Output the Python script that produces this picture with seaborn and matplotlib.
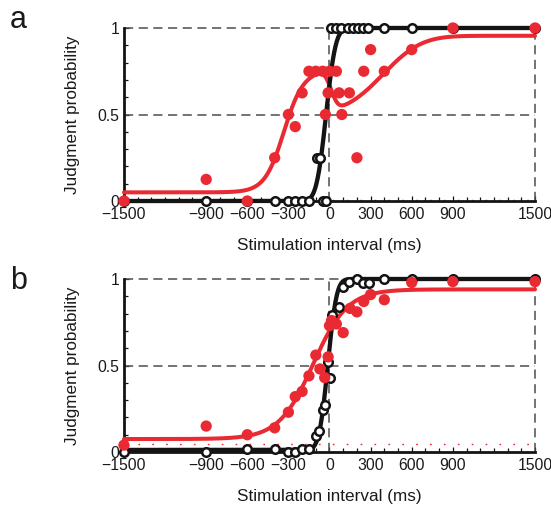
import math
import numpy as np
import matplotlib
matplotlib.use("Agg")
import matplotlib.pyplot as plt
from matplotlib.ticker import MultipleLocator, FixedLocator, FixedFormatter
import seaborn as sns

RED = "#EA2A32"
BLACK = "#141414"
GUIDE = "#4d4d4d"

# ---- panel a: judgment proportions per stimulation interval (ms)
a_black_x = [-1500, -900, -600, -400, -300, -250, -200, -150, -90, -70, -50, -25,
             10, 50, 85, 135, 170, 205, 245, 280, 400, 600, 900, 1500]
a_black_y = [0, 0, 0, 0, 0, 0, 0, 0, 0.25, 0.25, 0, 0,
             1, 1, 1, 1, 1, 1, 1, 1, 1, 1, 1, 1]
a_red_x = [-1500, -900, -600, -400, -300, -250, -200, -150, -100, -50, -30, -10,
           0, 50, 70, 90, 145, 200, 250, 300, 400, 600, 900, 1500]
a_red_y = [0, 0.125, 0, 0.25, 0.5, 0.43, 0.625, 0.75, 0.75, 0.75, 0.5, 0.625,
           0.75, 0.75, 0.625, 0.5, 0.625, 0.25, 0.75, 0.875, 0.75, 0.875, 1, 1]

# ---- panel b
b_black_x = [-1500, -900, -600, -400, -300, -250, -200, -150, -100, -75, -50, -30,
             -10, 5, 15, 70, 95, 145, 200, 245, 290, 400, 600, 900, 1500]
b_black_y = [0, 0, 0.02, 0.02, 0, 0, 0.02, 0.02, 0.09, 0.12, 0.24, 0.27,
             0.52, 0.43, 0.79, 0.84, 0.955, 0.98, 1.0, 0.975, 0.975, 1, 1, 1, 1]
b_red_x = [-1500, -900, -600, -400, -300, -250, -200, -150, -100, -70, -35, -10,
           0, 15, 50, 100, 150, 200, 250, 300, 400, 600, 900, 1500]
b_red_y = [0.04, 0.15, 0.10, 0.14, 0.23, 0.32, 0.35, 0.44, 0.56, 0.48, 0.43, 0.55,
           0.73, 0.76, 0.74, 0.69, 0.83, 0.81, 0.87, 0.91, 0.88, 0.98, 0.985, 0.985]

# ---- fitted psychometric parameters
a_black_fit = dict(lo=0.0, hi=1.0, mu=-25, sigma=55)
a_red_base = 0.05
a_red_rise = dict(amp=0.70, mu=-333, scale=70)           # logistic
a_red_terms = [(-0.24, 12, 40), (0.445, 391, 220)]       # cumulative Gaussians
b_black_fit = dict(lo=0.012, hi=1.0, mu=-12, sigma=50)
b_red_fit = dict(lo=0.075, hi=0.94, mu=-120, scale=125)
guess_levels = {"a": 0.005, "b": 0.045}

x_ticks = [-1500, -900, -600, -300, 0, 300, 600, 900, 1500]
x_tick_labels = ["\u22121500", "\u2212900", "\u2212600", "\u2212300", "0",
                 "300", "600", "900", "1500"]
y_ticks = [0, 0.5, 1]
y_tick_labels = ["0", "0.5", "1"]


def cum_gauss(x, mu, sigma):
    z = (np.asarray(x, float) - mu) / (sigma * math.sqrt(2))
    return 0.5 * (1 + np.array([math.erf(v) for v in z]))


def logistic(x, mu, scale):
    return 1 / (1 + np.exp(-(np.asarray(x, float) - mu) / scale))


def black_a(x):
    p = a_black_fit
    return p["lo"] + (p["hi"] - p["lo"]) * cum_gauss(x, p["mu"], p["sigma"])


def red_a(x):
    r = a_red_rise
    y = a_red_base + r["amp"] * logistic(x, r["mu"], r["scale"])
    for amp, mu, sigma in a_red_terms:
        y = y + amp * cum_gauss(x, mu, sigma)
    return y


def black_b(x):
    p = b_black_fit
    return p["lo"] + (p["hi"] - p["lo"]) * cum_gauss(x, p["mu"], p["sigma"])


def red_b(x):
    p = b_red_fit
    return p["lo"] + (p["hi"] - p["lo"]) * logistic(x, p["mu"], p["scale"])


sns.set_style("ticks")
plt.rcParams["font.family"] = ["Liberation Sans", "DejaVu Sans"]

fig = plt.figure(figsize=(5.51, 5.08), dpi=100)
ax_a = fig.add_axes([0.225, 0.6043, 0.746, 0.3406])
ax_b = fig.add_axes([0.225, 0.1102, 0.746, 0.3406])


def draw_panel(ax, bx, by, rx, ry, black_curve, red_curve, floor):
    grid = np.linspace(-1500, 1500, 901)
    dash = dict(color=GUIDE, lw=1.1, dashes=(6, 3.6), zorder=1, clip_on=False)
    ax.axhline(0.5, **dash)
    ax.axhline(1.0, **dash)
    ax.axvline(0, **dash)
    ax.axvline(1500, **dash)
    ax.axhline(floor, color=RED, lw=1.0, dashes=(1.2, 8.8), zorder=1.5)

    sns.lineplot(x=grid, y=red_curve(grid), color=RED, lw=2.9, ax=ax,
                 zorder=3, clip_on=False, estimator=None)
    sns.lineplot(x=grid, y=black_curve(grid), color=BLACK, lw=3.1, ax=ax,
                 zorder=4, clip_on=False, estimator=None)
    sns.scatterplot(x=bx, y=by, color="white", edgecolor=BLACK, linewidth=1.8,
                    s=38, ax=ax, zorder=5, clip_on=False)
    sns.scatterplot(x=rx, y=ry, color=RED, edgecolor="none", linewidth=0,
                    s=66, ax=ax, zorder=6, clip_on=False)

    ax.set_xlim(-1500, 1500)
    ax.set_ylim(0, 1)
    ax.xaxis.set_major_locator(FixedLocator(x_ticks))
    ax.xaxis.set_major_formatter(FixedFormatter(x_tick_labels))
    ax.xaxis.set_minor_locator(MultipleLocator(100))
    ax.yaxis.set_major_locator(FixedLocator(y_ticks))
    ax.yaxis.set_major_formatter(FixedFormatter(y_tick_labels))
    ax.yaxis.set_minor_locator(MultipleLocator(0.1))
    ax.tick_params(which="both", direction="in", color=BLACK, width=0.9,
                   labelsize=11.3, labelcolor="#1a1a1a")
    ax.tick_params(which="major", length=3.5)
    ax.tick_params(which="minor", length=3.0)
    ax.tick_params(axis="x", pad=4.5)
    ax.tick_params(axis="y", pad=3.5)
    for side in ("top", "right"):
        ax.spines[side].set_visible(False)
    for side in ("left", "bottom"):
        ax.spines[side].set_linewidth(2.0)
        ax.spines[side].set_color(BLACK)
    ax.set_xlabel("Stimulation interval (ms)", fontsize=12.3, color="#1a1a1a")
    ax.set_ylabel("Judgment probability", fontsize=12.3, color="#1a1a1a")
    ax.xaxis.set_label_coords(0.5, -0.215)
    ax.yaxis.set_label_coords(-0.108, 0.5)
    ax.set_facecolor("white")


draw_panel(ax_a, a_black_x, a_black_y, a_red_x, a_red_y, black_a, red_a, guess_levels["a"])
draw_panel(ax_b, b_black_x, b_black_y, b_red_x, b_red_y, black_b, red_b, guess_levels["b"])

fig.text(0.018, 0.945, "a", fontsize=22, color="#1a1a1a", va="baseline")
fig.text(0.018, 0.431, "b", fontsize=22, color="#1a1a1a", va="baseline")

fig.savefig("out.png", dpi=100, facecolor="white")
